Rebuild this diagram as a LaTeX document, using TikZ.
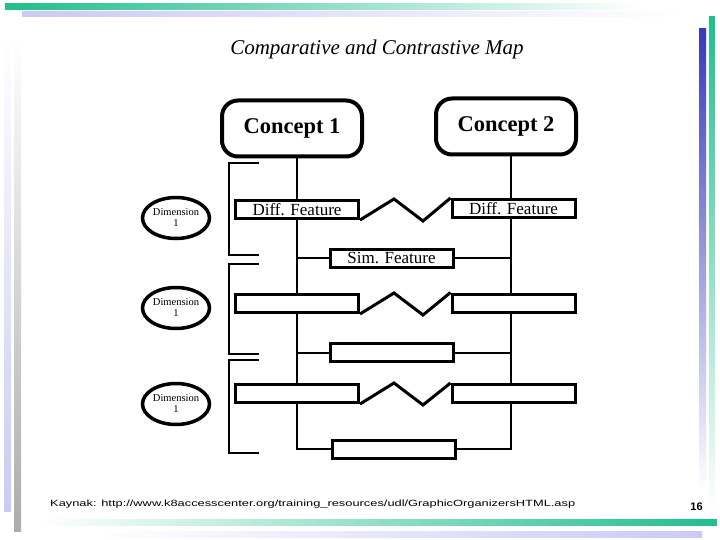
\documentclass[tikz,border=0pt]{standalone}
\usepackage{fontspec}
\usepackage{graphicx}
\setmainfont{Liberation Serif}
\newfontfamily\footfont{Liberation Sans}
\usetikzlibrary{shapes.geometric, backgrounds}

\definecolor{slidegreen}{RGB}{32,190,142}
\definecolor{slideblue}{RGB}{56,58,184}
\definecolor{slidelav}{RGB}{202,202,244}
\definecolor{slidegray}{RGB}{172,172,172}

\tikzset{
  concept/.style = {draw, line width=4pt, rounded corners=16pt, minimum width=140pt,
                    minimum height=56pt, font=\fontsize{22.5}{22.5}\selectfont\bfseries},
  feat/.style = {draw, fill=white, line width=3pt, minimum width=123pt, minimum height=18pt,
                 inner sep=0pt, font=\fontsize{17}{17}\selectfont},
  dim/.style = {draw, ellipse, line width=3.5pt, minimum width=67pt, minimum height=41pt,
                inner sep=0pt, align=center, font=\fontsize{10.5}{11}\selectfont},
  stem/.style = {line width=2pt},
  brk/.style = {line width=2.5pt},
  zig/.style = {line width=3pt, line join=miter}
}

\begin{document}
\begin{tikzpicture}[x=1pt, y=-1pt]
\useasboundingbox (0,0) rectangle (720,540);

% slide frame
\shade[left color=slidegreen, right color=white] (5,4) rectangle (640,10);
\shade[left color=slidelav, right color=white] (22,12) rectangle (680,17);
\shade[top color=slidegreen, bottom color=white] (709,17) rectangle (715,510);
\shade[top color=slideblue, bottom color=white] (699,29) rectangle (706,490);
\shade[top color=white, bottom color=slidelav] (4,40) rectangle (11,511);
\shade[top color=white, bottom color=slidegray] (14,40) rectangle (21,531);
\shade[left color=white, right color=slidegreen] (40,519) rectangle (717,525);
\shade[left color=white, right color=slidelav] (100,531) rectangle (702,537);

\node (title) at (377,49) {\fontsize{21}{21}\selectfont\itshape Comparative and Contrastive Map};

\node[concept] (c1) at (292,128.5) {Concept 1};
\node[concept] (c2) at (506,126.5) {Concept 2};

% features
\node[feat] (dl1) at (297,209.5) {Diff. Feature};
\node[feat] (dr1) at (513.5,208.5) {Diff. Feature};
\node[feat] (s1) at (391.5,258) {Sim. Feature};
\node[feat] (dl2) at (297,303.5) {};
\node[feat] (dr2) at (513.5,303) {};
\node[feat] (s2) at (391.5,352.5) {};
\node[feat] (dl3) at (297,393.5) {};
\node[feat] (dr3) at (513.5,393.5) {};
\node[feat] (s3) at (393.5,449) {};

\foreach \i in {1,2,3}
  \draw[zig] (dl\i.south east) -- ++(34,-21) -- ++(29,22) -- (dr\i.north west);

\coordinate (b1) at (297,449);
\coordinate (b2) at (511,449);
\begin{scope}[on background layer]
\draw[stem] (c1.south -| b1) -- (b1) -- (s3.west);
\draw[stem] (c2.south -| b2) -- (b2) -- (s3.east);
\foreach \i in {1,2}
  \draw[stem] (s\i.west -| b1) -- (s\i.west) (s\i.east) -- (s\i.east -| b2);
\end{scope}

% dimensions
\foreach \i/\y in {1/218, 2/308, 3/404}
  \node[dim] (dim\i) at (176,\y) {Dimension\\1};
\foreach \t/\b in {163/255, 264/354, 360/453}
  \draw[brk] (259,\t) -| (229,\b) -- (259,\b);

\node[anchor=west, inner sep=0pt] (src) at (50,504)
  {\footfont\fontsize{9}{9}\selectfont\resizebox{525pt}{\height}{Kaynak: http://www.k8accesscenter.org/training\_resources/udl/GraphicOrganizersHTML.asp}};
\node[inner sep=0pt] (page) at (696.5,507) {\footfont\fontsize{11}{11}\selectfont\bfseries 16};
\end{tikzpicture}
\end{document}
